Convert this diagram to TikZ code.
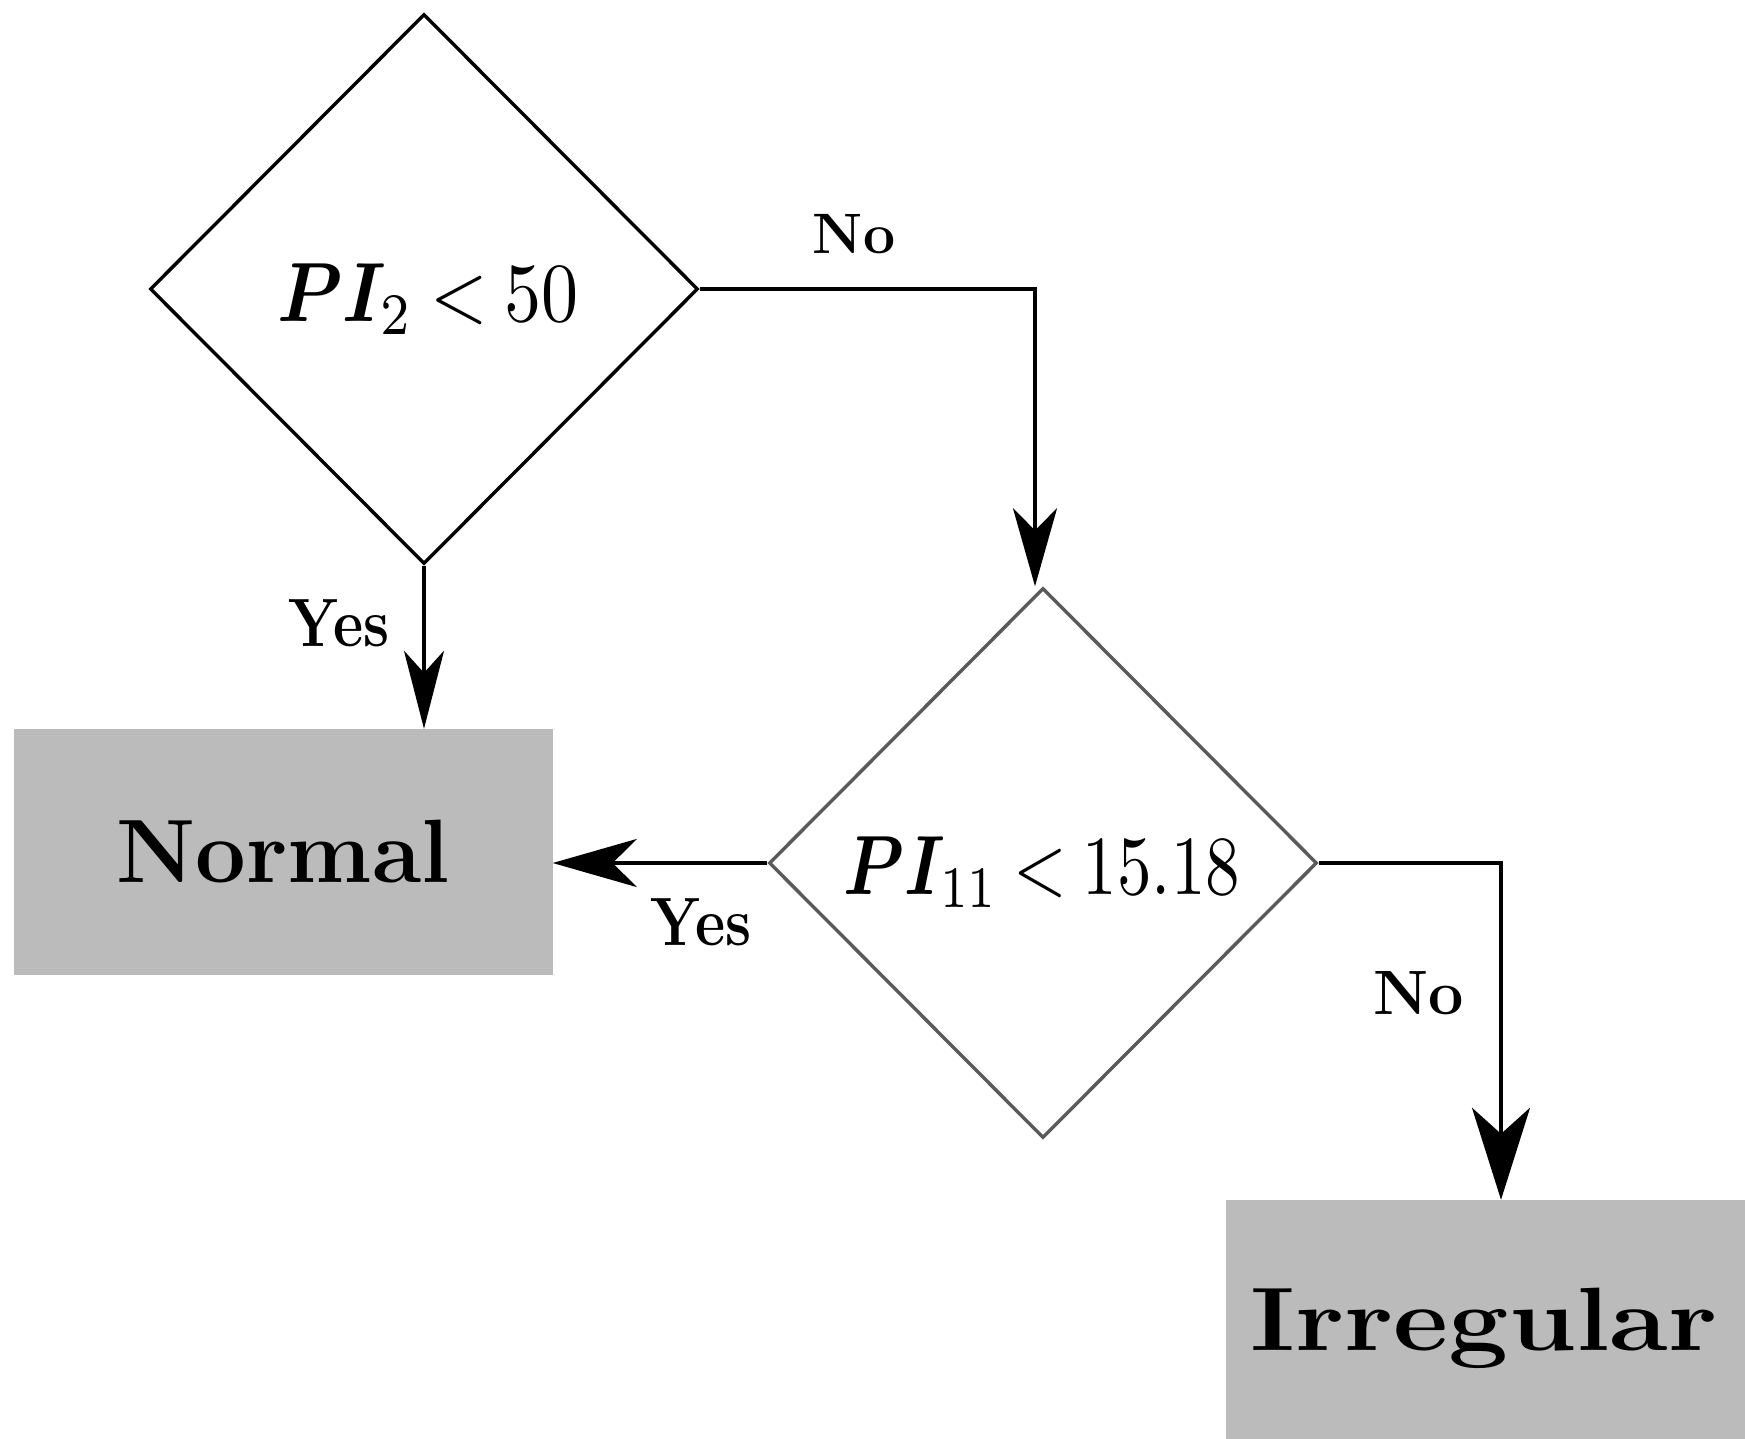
\documentclass[tikz,border=0pt]{standalone}
\usepackage{amsmath,bm}
\usetikzlibrary{shapes.geometric,arrows.meta}
\begin{document}
\begin{tikzpicture}[x=1pt,y=-1pt,
  decision/.style={diamond,draw=#1,line width=3.4pt,inner sep=0pt,aspect=1,minimum width=548pt,minimum height=550pt,fill=white},
  decision/.default=black,
  outcome/.style={rectangle,fill=boxgray,draw=none,minimum width=539pt,minimum height=246pt,inner sep=0pt,font=\fontsize{90}{96}\selectfont\bfseries},
  conn/.style={line width=3.6pt,draw=black},
  lbl/.style={font=\fontsize{57}{60}\selectfont\bfseries,inner sep=0pt},
  mathlbl/.style={inner sep=0pt}
]
\definecolor{boxgray}{HTML}{BBBBBB}
\definecolor{dgray}{HTML}{5A5A5A}
\clip (0,0) rectangle (1745,1439);
\fill[white] (0,0) rectangle (1745,1439);

\node[decision] (d1) at (424,289) {};
\node[mathlbl] (t1) at (428,299) {\scalebox{7.4}[8.4]{$\bm{P}\bm{I}_2 \mkern-1mu< \mkern-1mu 50$}};
\node[decision=dgray] (d2) at (1043,863) {};
\node[mathlbl] (t2) at (1042,872) {\scalebox{6.9}[8.4]{$\bm{P}\bm{I}_{11} \mkern-1mu< \mkern-1mu 15.18$}};

\node[outcome] (normal) at (283,852) {Normal};
\node[outcome] (irr) at (1495,1323) {};
\node[font=\fontsize{90}{96}\selectfont\bfseries,inner sep=0pt] (irrtext) at (1484,1328) {\scalebox{1.19}[1]{Irregular}};

\coordinate (c1) at (1035,0 |- d1.east);
\coordinate (c1b) at (c1 |- d2.north);
\draw[conn,-{Stealth[length=78pt,width=44pt,inset=22pt]}] (d1.east) -- (c1) -- (c1b);
\draw[conn,-{Stealth[length=78pt,width=40pt,inset=22pt]}] (d1.south) -- (d1.south |- normal.north);
\draw[conn,-{Stealth[length=84pt,width=48pt,inset=24pt]}] (d2.west) -- (d2.west -| normal.east);
\coordinate (c2) at (1501,0 |- d2.east);
\draw[conn,-{Stealth[length=92pt,width=58pt,inset=26pt]}] (d2.east) -- (c2) -- (c2 |- irr.north);

\node[lbl] (no1) at (854,234) {No};
\node[lbl] (yes1) at (339,623) {\scalebox{1.03}[1.2]{Yes}};
\node[lbl] (yes2) at (701,922) {\scalebox{1.03}[1.2]{Yes}};
\node[lbl] (no2) at (1419,993) {\scalebox{1.1}{No}};
\end{tikzpicture}
\end{document}
